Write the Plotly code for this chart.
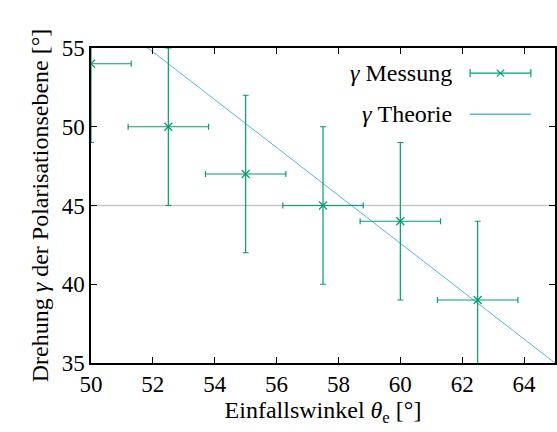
import plotly.graph_objects as go

# Data
theta = [50, 52.5, 55, 57.5, 60, 62.5]
gamma = [54, 50, 47, 45, 44, 39]
theta_err = [1.3, 1.3, 1.3, 1.3, 1.3, 1.3]
gamma_err = [5, 5, 5, 5, 5, 5]

theta_theory = [50, 52.5, 55, 57.5, 60, 62.5, 65]
gamma_theory = [57.8, 54.0, 50.2, 46.4, 42.6, 38.8, 35.0]

ref_level = 45

green = "#009e73"
blue = "#56b4e9"
font_family = "Liberation Serif"
tick_size = 23
title_size = 24

fig = go.Figure()

fig.add_trace(go.Scatter(
    x=[50, 65], y=[ref_level, ref_level], mode="lines",
    line=dict(color="#c8c8c8", width=1.5), showlegend=False, hoverinfo="skip"))

fig.add_trace(go.Scatter(
    x=theta_theory, y=gamma_theory, mode="lines",
    line=dict(color=blue, width=1), showlegend=False))

fig.add_trace(go.Scatter(
    x=theta, y=gamma, mode="markers",
    marker=dict(symbol="x-thin-open", size=8, color=green, line=dict(width=1.2, color=green)),
    error_x=dict(type="data", array=theta_err, color=green, thickness=1.2, width=3),
    error_y=dict(type="data", array=gamma_err, color=green, thickness=1.2, width=3),
    showlegend=False))

# custom legend (gnuplot style: text left of sample)
y_m, y_t = 0.92, 0.79
for txt, yy in [("<i>γ</i> Messung", y_m), ("<i>γ</i> Theorie", y_t)]:
    fig.add_annotation(x=0.783, y=yy, xref="paper", yref="paper", text=txt,
                       showarrow=False, xanchor="right", yanchor="middle",
                       font=dict(family=font_family, size=title_size, color="black"))
x0, x1 = 0.817, 0.948
xm = (x0 + x1) / 2
fig.add_shape(type="line", xref="paper", yref="paper", x0=x0, x1=x1, y0=y_m, y1=y_m,
              line=dict(color=green, width=1.2))
for xx in (x0, x1):
    fig.add_shape(type="line", xref="paper", yref="paper", x0=xx, x1=xx,
                  y0=y_m - 0.013, y1=y_m + 0.013, line=dict(color=green, width=1.2))
fig.add_shape(type="line", xref="paper", yref="paper", x0=xm - 0.008, x1=xm + 0.008,
              y0=y_m - 0.011, y1=y_m + 0.011, line=dict(color=green, width=1.2))
fig.add_shape(type="line", xref="paper", yref="paper", x0=xm - 0.008, x1=xm + 0.008,
              y0=y_m + 0.011, y1=y_m - 0.011, line=dict(color=green, width=1.2))
fig.add_shape(type="line", xref="paper", yref="paper", x0=x0, x1=x1, y0=y_t, y1=y_t,
              line=dict(color=blue, width=1.5))

axis_common = dict(
    showgrid=False, zeroline=False, showline=True, linecolor="black", linewidth=1.5,
    mirror="ticks", ticks="inside", ticklen=6, tickcolor="black", tickwidth=1,
    tickfont=dict(family=font_family, size=tick_size, color="black"),
)

fig.update_layout(
    width=557, height=432,
    margin=dict(l=91, r=0, t=48, b=69),
    paper_bgcolor="white", plot_bgcolor="white",
    xaxis=dict(range=[50, 65], dtick=2, tick0=50,
               title=dict(text="Einfallswinkel <i>θ</i><sub>e</sub> [°]", standoff=4,
                          font=dict(family=font_family, size=title_size, color="black")),
               **axis_common),
    yaxis=dict(range=[35, 55], dtick=5,
               title=dict(text="Drehung <i>γ</i> der Polarisationsebene [°]", standoff=6,
                          font=dict(family=font_family, size=title_size, color="black")),
               **axis_common),
    showlegend=False,
)

fig.write_html("out.html")
